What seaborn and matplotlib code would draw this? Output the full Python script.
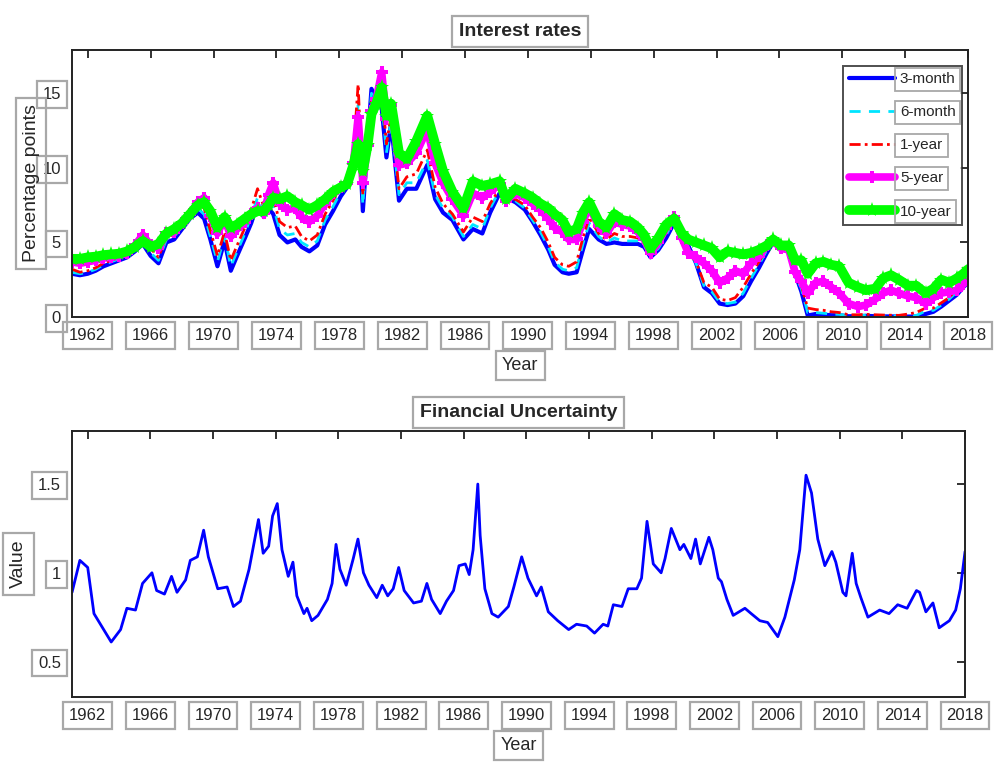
import numpy as np
import pandas as pd
import matplotlib
matplotlib.use("Agg")
import matplotlib.pyplot as plt
import seaborn as sns

# ---------------- data: interest rates (plotted year positions) ----------------
rate_years = [1961.0, 1961.5, 1962.0, 1962.5, 1963.0, 1963.5, 1964.0, 1964.5, 1965.0, 1965.5,
              1966.0, 1966.5, 1967.0, 1967.5, 1968.0, 1968.5, 1969.0, 1969.4, 1969.8, 1970.25,
              1970.7, 1971.1, 1971.5, 1972.0, 1972.4, 1972.8, 1973.2, 1973.5, 1973.8, 1974.2,
              1974.7, 1975.2, 1975.6, 1976.1, 1976.6, 1977.1, 1977.6, 1978.1, 1978.5, 1978.9,
              1979.2, 1979.5, 1979.8, 1980.05, 1980.35, 1980.7, 1981.0, 1981.3, 1981.8, 1982.3,
              1982.9, 1983.6, 1984.1, 1984.6, 1985.2, 1985.9, 1986.5, 1987.1, 1987.6, 1988.2,
              1988.6, 1989.2, 1989.8, 1990.3, 1990.8, 1991.3, 1991.7, 1992.2, 1992.6, 1993.1,
              1993.5, 1993.9, 1994.5, 1995.0, 1995.5, 1996.0, 1996.5, 1997.0, 1997.4, 1997.8,
              1998.3, 1998.8, 1999.3, 1999.8, 2000.2, 2000.7, 2001.2, 2001.7, 2002.2, 2002.7,
              2003.2, 2003.7, 2004.2, 2004.7, 2005.2, 2005.6, 2006.1, 2006.6, 2007.0, 2007.4,
              2007.8, 2008.3, 2008.8, 2009.3, 2009.8, 2010.4, 2011.0, 2011.5, 2012.1, 2012.6,
              2013.1, 2013.6, 2014.2, 2014.7, 2015.3, 2015.8, 2016.3, 2016.8, 2017.3, 2017.7,
              2018.0]

rate_3m = [2.9, 2.8, 2.9, 3.1, 3.4, 3.6, 3.8, 4.0, 4.4, 4.9,
           4.1, 3.6, 5.0, 5.2, 5.9, 6.6, 7.0, 6.6, 5.2, 3.4,
           5.1, 3.1, 4.1, 5.3, 6.3, 7.6, 6.7, 7.3, 6.9, 5.5,
           5.0, 5.2, 4.7, 4.4, 4.8, 6.2, 7.1, 8.1, 8.7, 10.5,
           13.6, 7.1, 11.6, 15.3, 14.6, 14.0, 10.7, 13.0, 7.8, 8.6,
           8.6, 10.2, 7.9, 7.0, 6.5, 5.2, 5.9, 5.6, 7.0, 8.3,
           8.0, 7.7, 7.2, 6.4, 5.5, 4.5, 3.5, 3.0, 2.9, 3.0,
           4.5, 5.9, 5.2, 4.9, 5.0, 4.9, 4.9, 4.9, 4.7, 4.0,
           4.5, 5.3, 6.3, 5.6, 4.8, 3.6, 2.0, 1.6, 0.9, 0.8,
           0.9, 1.4, 2.4, 3.3, 4.3, 5.0, 4.9, 4.3, 2.9, 1.7,
           0.1, 0.2, 0.15, 0.12, 0.12, 0.05, 0.05, 0.08, 0.05, 0.04,
           0.04, 0.03, 0.03, 0.03, 0.2, 0.35, 0.7, 1.1, 1.5, 2.0,
           2.3]

rate_6m = [3.0, 2.9, 3.0, 3.2, 3.5, 3.7, 3.9, 4.1, 4.5, 5.1,
           4.3, 3.8, 5.2, 5.4, 6.1, 6.8, 7.3, 6.9, 5.4, 3.7,
           5.4, 3.4, 4.4, 5.6, 6.8, 8.0, 7.0, 7.8, 7.4, 5.9,
           5.5, 5.6, 5.0, 4.7, 5.1, 6.5, 7.4, 8.4, 9.0, 10.8,
           14.2, 7.5, 11.8, 15.0, 14.5, 14.6, 11.0, 13.2, 8.2, 9.0,
           9.0, 10.5, 8.2, 7.3, 6.7, 5.4, 6.2, 5.9, 7.3, 8.5,
           8.0, 7.8, 7.3, 6.5, 5.7, 4.7, 3.7, 3.2, 3.1, 3.3,
           4.9, 6.3, 5.4, 5.0, 5.3, 5.1, 5.1, 5.1, 4.8, 4.1,
           4.6, 5.5, 6.5, 5.5, 4.6, 3.6, 2.1, 1.7, 1.0, 0.9,
           1.0, 1.6, 2.6, 3.5, 4.5, 5.1, 5.0, 4.5, 2.8, 1.9,
           0.3, 0.3, 0.25, 0.2, 0.18, 0.08, 0.1, 0.12, 0.1, 0.08,
           0.07, 0.06, 0.07, 0.1, 0.4, 0.45, 0.8, 1.2, 1.7, 2.1,
           2.4]

rate_1y = [3.2, 3.0, 3.1, 3.3, 3.6, 3.8, 4.0, 4.2, 4.7, 5.3,
           4.6, 4.0, 5.4, 5.5, 6.3, 7.0, 7.6, 7.3, 5.8, 4.1,
           5.7, 3.8, 4.8, 6.0, 7.2, 8.6, 7.4, 8.2, 8.0, 6.4,
           6.0, 6.1, 5.4, 5.1, 5.5, 6.9, 7.8, 8.8, 9.3, 11.0,
           15.6, 8.2, 12.2, 14.6, 14.6, 15.4, 11.6, 13.5, 8.6, 9.4,
           9.6, 11.2, 8.7, 7.6, 6.9, 5.7, 6.7, 6.4, 7.6, 8.6,
           7.9, 7.9, 7.5, 6.7, 6.0, 5.0, 4.0, 3.5, 3.4, 3.7,
           5.3, 6.7, 5.6, 5.2, 5.6, 5.4, 5.4, 5.3, 4.9, 4.2,
           4.7, 5.7, 6.6, 5.4, 4.4, 3.7, 2.3, 2.0, 1.2, 1.1,
           1.3, 2.0, 2.9, 3.7, 4.6, 5.1, 4.9, 4.6, 2.6, 2.1,
           0.6, 0.5, 0.45, 0.35, 0.3, 0.15, 0.15, 0.18, 0.15, 0.13,
           0.12, 0.11, 0.2, 0.3, 0.6, 0.6, 0.95, 1.3, 1.9, 2.3,
           2.5]

rate_5y = [3.7, 3.6, 3.7, 3.8, 3.95, 4.0, 4.1, 4.3, 4.8, 5.5,
           4.8, 4.6, 5.6, 5.7, 6.3, 6.9, 7.7, 8.0, 6.8, 5.6,
           6.6, 5.4, 5.9, 6.4, 6.9, 7.3, 7.0, 8.2, 9.0, 7.6,
           7.2, 7.3, 6.7, 6.4, 6.8, 7.6, 8.3, 8.7, 9.0, 10.3,
           13.4, 9.0, 11.5, 13.8, 14.6, 16.4, 13.3, 14.2, 10.2, 10.3,
           11.0, 12.6, 10.3, 9.0, 7.9, 6.8, 8.3, 8.0, 8.4, 8.9,
           7.8, 8.3, 8.0, 7.6, 7.2, 6.6, 6.0, 5.7, 5.2, 5.2,
           6.4, 7.4, 6.1, 5.6, 6.4, 6.2, 6.1, 5.7, 5.2, 4.3,
           5.0, 6.0, 6.7, 5.3, 4.3, 4.0, 3.6, 3.1, 2.3, 2.6,
           3.1, 2.9, 3.6, 4.1, 4.8, 5.1, 4.6, 4.5, 3.0, 2.4,
           1.6, 2.3, 2.4, 2.0, 1.6, 0.9, 0.7, 0.8, 1.2, 1.6,
           1.8, 1.6, 1.4, 1.3, 0.9, 1.3, 1.6, 1.7, 1.8, 2.2,
           2.7]

rate_10y = [3.9, 3.9, 4.0, 4.05, 4.15, 4.2, 4.25, 4.4, 4.7, 5.1,
            4.7, 4.9, 5.6, 5.9, 6.3, 6.9, 7.5, 7.7, 7.1, 6.0,
            6.7, 6.0, 6.2, 6.6, 6.9, 7.1, 7.1, 7.5, 8.0, 7.9,
            8.1, 7.7, 7.5, 7.2, 7.5, 7.9, 8.4, 8.7, 8.9, 10.2,
            11.6, 9.8, 11.5, 13.6, 14.3, 15.4, 13.5, 14.3, 11.0, 10.6,
            11.8, 13.5, 11.6, 9.8, 8.4, 7.3, 9.1, 8.8, 8.9, 9.1,
            7.9, 8.6, 8.3, 8.0, 7.6, 7.3, 6.9, 6.5, 5.7, 5.9,
            7.0, 7.7, 6.4, 6.0, 6.9, 6.5, 6.4, 6.0, 5.5, 4.6,
            5.3, 6.2, 6.6, 5.6, 5.2, 5.0, 4.8, 4.6, 4.0, 4.4,
            4.3, 4.2, 4.3, 4.5, 4.8, 5.2, 4.8, 4.8, 3.8, 3.8,
            2.9, 3.6, 3.7, 3.5, 3.4, 2.3, 2.0, 1.8, 1.9, 2.6,
            2.8, 2.5, 2.1, 2.1, 1.6, 1.9, 2.5, 2.3, 2.6, 2.9,
            3.2]

# ---------------- data: financial uncertainty ----------------
fu_years = [1961.0, 1961.5, 1962.0, 1962.4, 1963.5, 1964.1, 1964.5, 1965.05, 1965.5, 1966.1,
            1966.4, 1966.9, 1967.35, 1967.7, 1968.25, 1968.55, 1969.0, 1969.4, 1969.7, 1970.3,
            1970.9, 1971.3, 1971.75, 1972.3, 1972.9, 1973.2, 1973.55, 1973.8, 1974.1, 1974.4,
            1974.8, 1975.1, 1975.35, 1975.8, 1976.0, 1976.3, 1976.7, 1977.3, 1977.6, 1977.85,
            1978.1, 1978.5, 1978.95, 1979.25, 1979.6, 1979.95, 1980.45, 1980.8, 1981.15, 1981.5,
            1981.85, 1982.2, 1982.8, 1983.3, 1983.65, 1983.95, 1984.5, 1984.9, 1985.35, 1985.7,
            1986.1, 1986.35, 1986.6, 1986.9, 1987.05, 1987.35, 1987.8, 1988.2, 1988.85, 1989.2,
            1989.7, 1990.1, 1990.65, 1990.95, 1991.4, 1992.0, 1992.7, 1993.2, 1993.85, 1994.35,
            1994.9, 1995.2, 1995.55, 1996.1, 1996.5, 1997.05, 1997.35, 1997.7, 1998.1, 1998.6,
            1998.85, 1999.25, 1999.8, 2000.05, 2000.5, 2000.8, 2001.1, 2001.65, 2001.9, 2002.25,
            2002.45, 2002.8, 2003.2, 2003.95, 2004.35, 2004.9, 2005.4, 2006.05, 2006.5, 2007.1,
            2007.45, 2007.85, 2008.2, 2008.6, 2009.05, 2009.5, 2009.75, 2010.2, 2010.4, 2010.8,
            2011.05, 2011.35, 2011.8, 2012.55, 2013.15, 2013.7, 2014.3, 2014.9, 2015.1, 2015.5,
            2015.95, 2016.35, 2017.0, 2017.4, 2017.7, 2018.0]

fu_values = [0.89, 1.07, 1.03, 0.77, 0.61, 0.68, 0.80, 0.79, 0.94, 1.00,
             0.90, 0.88, 0.98, 0.89, 0.96, 1.07, 1.09, 1.24, 1.09, 0.91,
             0.92, 0.81, 0.84, 1.02, 1.30, 1.11, 1.15, 1.32, 1.39, 1.13,
             0.98, 1.06, 0.87, 0.77, 0.80, 0.73, 0.76, 0.85, 0.94, 1.16,
             1.02, 0.93, 1.08, 1.19, 1.00, 0.93, 0.86, 0.93, 0.87, 0.91,
             1.03, 0.90, 0.83, 0.84, 0.94, 0.85, 0.77, 0.84, 0.90, 1.04,
             1.05, 0.99, 1.13, 1.50, 1.21, 0.91, 0.77, 0.75, 0.81, 0.92,
             1.09, 0.97, 0.87, 0.92, 0.78, 0.73, 0.68, 0.71, 0.70, 0.66,
             0.71, 0.70, 0.82, 0.81, 0.91, 0.91, 0.97, 1.29, 1.05, 1.00,
             1.08, 1.25, 1.13, 1.16, 1.08, 1.19, 1.05, 1.20, 1.13, 0.97,
             0.95, 0.85, 0.76, 0.80, 0.77, 0.73, 0.72, 0.64, 0.75, 0.96,
             1.13, 1.55, 1.45, 1.19, 1.04, 1.12, 1.06, 0.89, 0.87, 1.11,
             0.94, 0.86, 0.75, 0.79, 0.77, 0.82, 0.80, 0.90, 0.89, 0.78,
             0.83, 0.69, 0.73, 0.79, 0.91, 1.12]

xtick_years = list(range(1962, 2019, 4))

# ---------------- styling ----------------
sns.set_theme(style="white")
plt.rcParams["font.family"] = ["Liberation Sans Narrow", "Liberation Sans", "DejaVu Sans"]
plt.rcParams["xtick.direction"] = "in"
plt.rcParams["ytick.direction"] = "in"
plt.rcParams["xtick.top"] = True
plt.rcParams["ytick.right"] = True
plt.rcParams["axes.edgecolor"] = "#222222"
plt.rcParams["axes.linewidth"] = 1.4

BOX = dict(facecolor="none", edgecolor="#a8a8a8", linewidth=1.6, boxstyle="square,pad=0.35")

fig = plt.figure(figsize=(9.95, 7.76), dpi=100)
ax1 = fig.add_axes([0.0724, 0.5915, 0.9005, 0.3440])
ax2 = fig.add_axes([0.0724, 0.1018, 0.8975, 0.3430])

rates = pd.DataFrame({"year": rate_years, "3-month": rate_3m, "6-month": rate_6m,
                      "1-year": rate_1y, "5-year": rate_5y, "10-year": rate_10y})

sns.lineplot(data=rates, x="year", y="3-month", ax=ax1, color="#0000ff", linewidth=3.0,
             label="3-month")
sns.lineplot(data=rates, x="year", y="6-month", ax=ax1, color="#00e5ff", linewidth=2.0,
             linestyle=(0, (4, 3)), label="6-month")
sns.lineplot(data=rates, x="year", y="1-year", ax=ax1, color="#ff0000", linewidth=2.0,
             linestyle=(0, (4, 1.5, 1, 1.5)), label="1-year")
sns.lineplot(data=rates, x="year", y="5-year", ax=ax1, color="#ff00ff", linewidth=5.5,
             marker="P", markersize=8, markeredgewidth=0, label="5-year")
sns.lineplot(data=rates, x="year", y="10-year", ax=ax1, color="#00ff00", linewidth=7,
             marker="*", markersize=11, markeredgewidth=0, label="10-year")

ax1.set_xlim(1961, 2018)
ax1.set_ylim(0, 17.9)
ax1.set_xticks(xtick_years)
ax1.set_yticks([0, 5, 10, 15])
ax1.set_xlabel("Year", fontsize=13, labelpad=10)
ax1.set_ylabel("Percentage points", fontsize=14, labelpad=2)
ax1.set_title("Interest rates", fontsize=14, fontweight="bold", pad=10)

fu = pd.DataFrame({"year": fu_years, "value": fu_values})
sns.lineplot(data=fu, x="year", y="value", ax=ax2, color="#0000ff", linewidth=2.0)
ax2.set_xlim(1961, 2018)
ax2.set_ylim(0.3, 1.8)
ax2.set_xticks(xtick_years)
ax2.set_yticks([0.5, 1, 1.5])
ax2.set_yticklabels(["0.5", "1", "1.5"])
ax2.set_xlabel("Year", fontsize=13, labelpad=10)
ax2.set_ylabel("Value", fontsize=14, labelpad=8)
ax2.set_title("Financial Uncertainty", fontsize=14, fontweight="bold", pad=10)

for ax in (ax1, ax2):
    ax.tick_params(axis="both", length=6, width=1.3, labelsize=12, color="#222222", pad=8)
    for s in ax.spines.values():
        s.set_visible(True)
        s.set_color("#222222")
    for lab in ax.get_xticklabels() + ax.get_yticklabels():
        lab.set_bbox(BOX)
    ax.xaxis.label.set_bbox(BOX)
    ax.yaxis.label.set_bbox(BOX)
    ax.title.set_bbox(BOX)

leg = ax1.legend(loc="upper right", bbox_to_anchor=(0.993, 0.94), fontsize=11, frameon=True,
                 fancybox=False, edgecolor="#222222", handlelength=3.0, labelspacing=1.25,
                 borderaxespad=0.0, handletextpad=0.3, borderpad=0.4)
leg.get_frame().set_linewidth(1.4)
for t in leg.get_texts():
    t.set_bbox(dict(facecolor="none", edgecolor="#a8a8a8", linewidth=1.3, boxstyle="square,pad=0.3"))

fig.savefig("out.png", dpi=100)
